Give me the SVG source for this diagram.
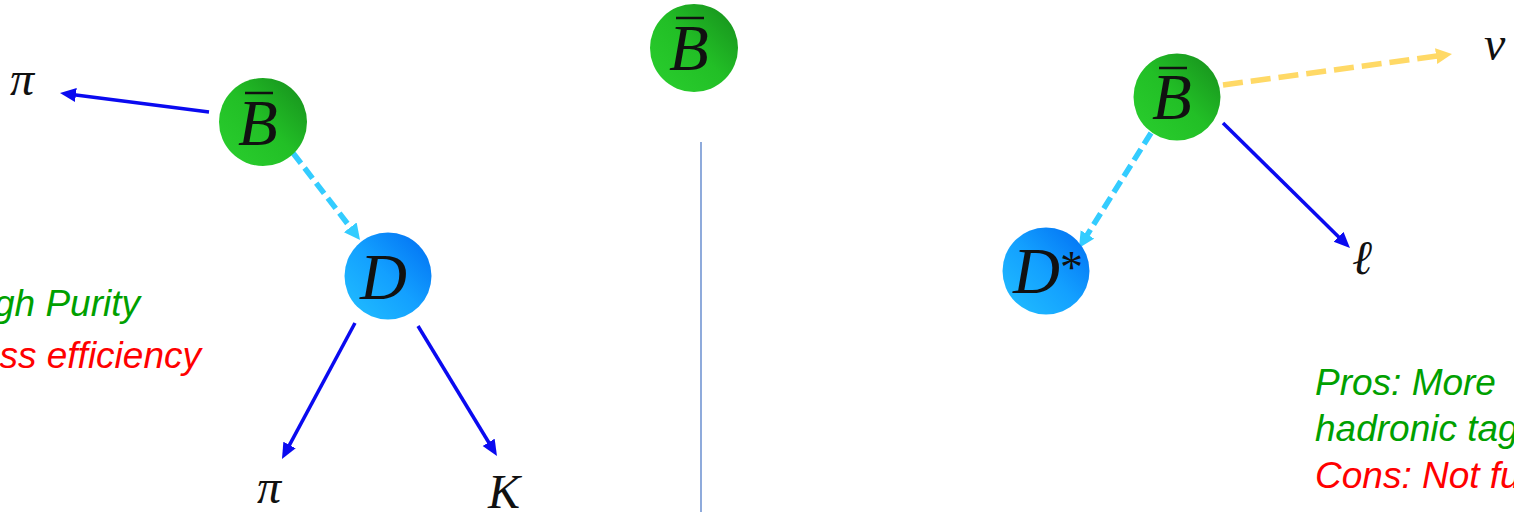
<svg xmlns="http://www.w3.org/2000/svg" width="1514" height="512" viewBox="0 0 1514 512">
<defs>
<style>
.math{font-family:"Liberation Serif","DejaVu Serif",serif;font-style:italic;fill:#111}
.big{font-size:65px}
.lbl{font-size:48px}
.bar{stroke:#111;stroke-width:2.5}
.note{font-family:"Liberation Sans",Arial,sans-serif;font-style:italic;font-size:37px}
.pro{fill:#00A000}
.con{fill:#FF0000}
.blue{stroke:#0A0AF0;stroke-width:3.5;fill:none}
.cyan{stroke:#33CCFF;stroke-width:5.5;fill:none;stroke-dasharray:13 6}
.yel{stroke:#FFD966;stroke-width:5.5;fill:none;stroke-dasharray:20 8}
</style>
<linearGradient id="gG" x1="0" y1="1" x2="1" y2="0">
<stop offset="0" stop-color="#2ACF2E"/>
<stop offset="0.5" stop-color="#22BF26"/>
<stop offset="1" stop-color="#168C1C"/>
</linearGradient>
<linearGradient id="gB" x1="0" y1="1" x2="1" y2="0">
<stop offset="0" stop-color="#22C0FF"/>
<stop offset="0.5" stop-color="#13A0FF"/>
<stop offset="1" stop-color="#006CF2"/>
</linearGradient>
<marker id="aBlue" markerUnits="userSpaceOnUse" markerWidth="18" markerHeight="16" refX="2" refY="7" orient="auto">
<path d="M0,0 L16,7 L0,14 z" fill="#0A0AF0"/>
</marker>
<marker id="aCyan" markerUnits="userSpaceOnUse" markerWidth="18" markerHeight="18" refX="2" refY="8" orient="auto">
<path d="M0,0 L16,8 L0,16 z" fill="#33CCFF"/>
</marker>
<marker id="aYel" markerUnits="userSpaceOnUse" markerWidth="18" markerHeight="18" refX="2" refY="8" orient="auto">
<path d="M0,0 L16,8 L0,16 z" fill="#FFD966"/>
</marker>
</defs>
<rect width="1514" height="512" fill="#fff"/>

<g id="connectors">
<line class="blue" x1="209" y1="112" x2="73.9" y2="94.8" marker-end="url(#aBlue)"/>
<line class="cyan" x1="293" y1="153" x2="351.5" y2="228.9" marker-end="url(#aCyan)"/>
<line class="blue" x1="355" y1="323" x2="288.6" y2="446.7" marker-end="url(#aBlue)"/>
<line class="blue" x1="418" y1="326" x2="489.7" y2="444" marker-end="url(#aBlue)"/>
<line class="yel" x1="1223" y1="85" x2="1438.1" y2="55.9" marker-end="url(#aYel)"/>
<line class="cyan" x1="1151" y1="133" x2="1086.4" y2="236.1" marker-end="url(#aCyan)"/>
<line class="blue" x1="1223" y1="123" x2="1340" y2="238.2" marker-end="url(#aBlue)"/>
<line x1="701" y1="142" x2="701" y2="512" stroke="#4472C4" stroke-width="1.2"/>
</g>

<g id="node-B-left">
<circle cx="263" cy="122" r="44" fill="url(#gG)"/>
<text class="math big" x="238" y="145">B</text>
<line class="bar" x1="245" y1="93" x2="273" y2="93"/>
</g>
<g id="node-D-left">
<circle cx="388" cy="276" r="43.5" fill="url(#gB)"/>
<text class="math big" x="360" y="299">D</text>
</g>
<g id="node-B-mid">
<circle cx="694" cy="48" r="44" fill="url(#gG)"/>
<text class="math big" x="669" y="70">B</text>
<line class="bar" x1="676" y1="18" x2="704" y2="18"/>
</g>
<g id="node-B-right">
<circle cx="1177" cy="97" r="43.5" fill="url(#gG)"/>
<text class="math big" x="1152" y="119">B</text>
<line class="bar" x1="1159" y1="68" x2="1187" y2="68"/>
</g>
<g id="node-Dstar">
<circle cx="1046" cy="271" r="43.5" fill="url(#gB)"/>
<text class="math big" x="1013" y="293">D<tspan font-style="normal" font-size="46" dy="-10">*</tspan></text>
</g>

<g id="labels">
<text class="math lbl" x="10" y="95">π</text>
<text class="math lbl" x="257" y="503">π</text>
<text class="math lbl" x="488" y="508">K</text>
<text class="math lbl" x="1484" y="60">ν</text>
<text class="math lbl" x="1352" y="274">ℓ</text>
</g>

<g id="notes">
<text class="note pro" x="140" y="316" text-anchor="end">gh Purity</text>
<text class="note con" x="201" y="368" text-anchor="end">ss efficiency</text>
<text class="note pro" x="1315" y="395">Pros: More</text>
<text class="note pro" x="1315" y="441">hadronic tag</text>
<text class="note con" x="1315" y="488">Cons: Not fu</text>
</g>
</svg>
